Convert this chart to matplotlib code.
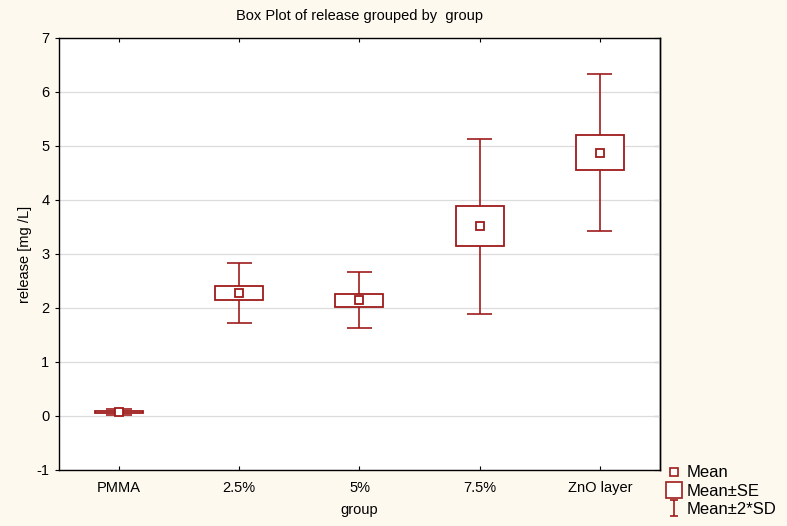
import matplotlib.pyplot as plt
import numpy as np
from matplotlib.patches import Rectangle
from matplotlib.lines import Line2D
from matplotlib.path import Path

plt.rcParams['font.family'] = ['Liberation Sans', 'DejaVu Sans']
plt.rcParams['axes.unicode_minus'] = False

groups = ['PMMA', '2.5%', '5%', '7.5%', 'ZnO layer']
mean = [0.074, 2.28, 2.14, 3.51, 4.875]
se = [0.015, 0.125, 0.12, 0.37, 0.32]
sd = [0.025, 0.28, 0.26, 0.8125, 0.7275]

red = '#9e1b1b'
bg = '#fef9ef'

fig = plt.figure(figsize=(7.87, 5.26), dpi=100, facecolor=bg)
ax = fig.add_axes([0.075, 0.1065, 0.7635, 0.8213])
ax.set_facecolor('white')

x = np.arange(len(groups))
box_w = 0.4
cap_w = 0.21
m = np.array(mean)
s = np.array(se)
d = 2 * np.array(sd)

# whiskers (mean +/- 2*SD)
ax.vlines(x, m - d, m + d, color=red, lw=1.2, zorder=2)
ax.hlines(m - d, x - cap_w / 2, x + cap_w / 2, color=red, lw=1.2, zorder=2)
ax.hlines(m + d, x - cap_w / 2, x + cap_w / 2, color=red, lw=1.2, zorder=2)
# boxes (mean +/- SE)
for xi, mi, si in zip(x, m, s):
    ax.add_patch(Rectangle((xi - box_w / 2, mi - si), box_w, 2 * si,
                           facecolor='white', edgecolor=red, lw=1.3, zorder=3))
ax.plot(x, m, 's', ms=5.5, mfc='white', mec=red, mew=1.3, zorder=4)

ax.set_xlim(-0.5, 4.5)
ax.set_ylim(-1, 7)
ax.set_yticks(range(-1, 8))
ax.set_xticks(x)
ax.set_xticklabels(groups, fontsize=10.5)
ax.tick_params(axis='y', labelsize=10.5, direction='out', length=3, width=0.8, pad=4)
ax.tick_params(axis='x', direction='in', top=True, length=3, width=0.8, pad=8)
sec = ax.secondary_yaxis('right')
sec.set_yticks(range(-1, 8))
sec.tick_params(direction='in', length=4, width=0.8, labelright=False)
sec.spines['right'].set_linewidth(1.0)
ax.grid(axis='y', color='#dcdcdc', lw=0.9, zorder=0)
ax.set_axisbelow(True)
for sp in ax.spines.values():
    sp.set_linewidth(1.0)

ax.set_title('Box Plot of release grouped by  group', fontsize=10.5, pad=13)
ax.set_xlabel('group', fontsize=10.5, labelpad=6)
ax.set_ylabel('release [mg /L]', fontsize=10.5, labelpad=3)

ibeam = Path([(-0.5, 1), (0.5, 1), (0, 1), (0, -1), (-0.5, -1), (0.5, -1)],
             [Path.MOVETO, Path.LINETO, Path.MOVETO, Path.LINETO, Path.MOVETO, Path.LINETO])
handles = [
    Line2D([], [], ls='none', marker='s', ms=5.5, mfc='white', mec=red, mew=1.2),
    Line2D([], [], ls='none', marker='s', ms=11, mfc='white', mec=red, mew=1.2),
    Line2D([], [], ls='none', marker=ibeam, ms=12, mfc='none', mec=red, mew=1.2),
]
fig.legend(handles, ['Mean', 'Mean±SE', 'Mean±2*SD'], loc='upper left',
           bbox_to_anchor=(0.838, 0.128), frameon=False, fontsize=12,
           handlelength=0.9, handletextpad=0.3, labelspacing=0.2, borderaxespad=0)

fig.savefig('out.png', dpi=100, facecolor=bg)
